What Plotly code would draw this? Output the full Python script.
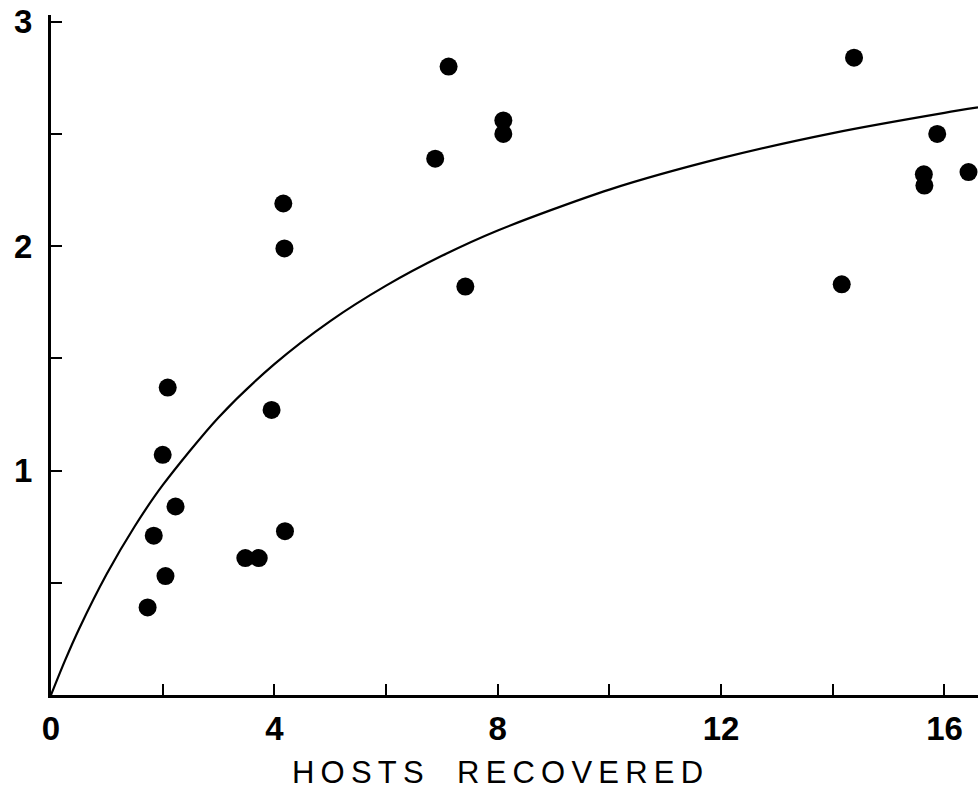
import plotly.graph_objects as go

# Observed points: hosts recovered vs. response
hosts = [1.73, 1.84, 2.05, 2.0, 2.09, 2.23, 3.48, 3.72, 3.95, 4.19, 4.16, 4.18,
         6.88, 7.12, 7.42, 8.1, 8.1, 14.16, 14.38, 15.63, 15.64, 15.87, 16.43]
response = [0.39, 0.71, 0.53, 1.07, 1.37, 0.84, 0.61, 0.61, 1.27, 0.73, 2.19, 1.99,
            2.39, 2.80, 1.82, 2.56, 2.50, 1.83, 2.84, 2.32, 2.27, 2.50, 2.33]

# Fitted saturating curve, sampled along the x axis
curve_x = [0, 0.25, 0.5, 1, 1.5, 2, 3, 4, 5, 6, 7, 8, 10, 12, 14, 16, 16.6]
curve_y = [0, 0.153, 0.293, 0.540, 0.752, 0.935, 1.237, 1.474, 1.666, 1.824,
           1.957, 2.070, 2.252, 2.392, 2.504, 2.594, 2.618]

x_ticks = [0, 2, 4, 6, 8, 10, 12, 14, 16]
x_tick_text = ["0", "", "4", "", "8", "", "12", "", "16"]
y_ticks = [0, 0.5, 1, 1.5, 2, 2.5, 3]
y_tick_text = ["", "", "1", "", "2", "", "3"]

x_title = "HOSTS RECOVERED"

fig = go.Figure()
fig.add_trace(go.Scatter(
    x=curve_x, y=curve_y, mode="lines",
    line=dict(color="black", width=2.2, shape="spline", smoothing=0.8),
    hoverinfo="skip", showlegend=False,
))
fig.add_trace(go.Scatter(
    x=hosts, y=response, mode="markers",
    marker=dict(color="black", size=18, line=dict(width=0)),
    cliponaxis=False, showlegend=False,
))

tick_font = dict(family="Liberation Sans", size=33, color="black", weight="bold")

# letter-spaced axis caption
spaced_title = "\u2009".join(x_title.replace(" ", "\u2009 "))

fig.update_layout(
    width=978, height=792,
    margin=dict(l=51, r=0, t=15, b=97),
    paper_bgcolor="white", plot_bgcolor="white",
    xaxis=dict(
        range=[0, 16.6], showgrid=False, zeroline=False,
        showline=True, linecolor="black", linewidth=3,
        ticks="inside", ticklen=11, tickwidth=2, tickcolor="black",
        tickvals=x_ticks, ticktext=x_tick_text, tickfont=tick_font,
        ticklabelstandoff=2,
    ),
    yaxis=dict(
        range=[0, 3.03], showgrid=False, zeroline=False,
        showline=True, linecolor="black", linewidth=3,
        ticks="inside", ticklen=11, tickwidth=2, tickcolor="black",
        tickvals=y_ticks, ticktext=y_tick_text, tickfont=tick_font,
        ticklabelstandoff=9,
    ),
    annotations=[dict(
        text=spaced_title,
        xref="paper", yref="paper", x=0.4817, y=-0.1147,
        xanchor="center", yanchor="middle", showarrow=False,
        font=dict(family="Liberation Sans", size=31, color="black"),
    )],
)

fig.write_html("out.html")
